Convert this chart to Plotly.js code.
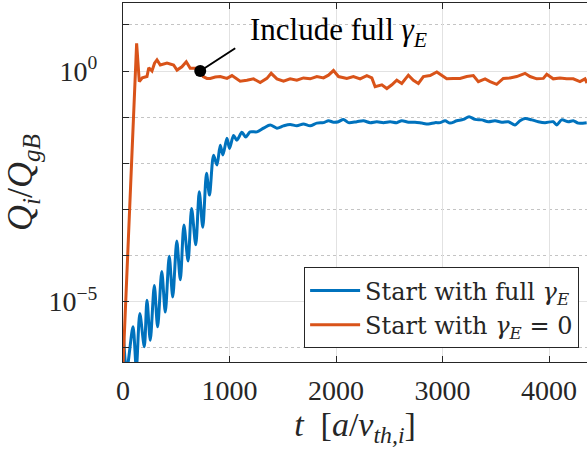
<!DOCTYPE html>
<html>
<head>
<meta charset="utf-8">
<script src="https://cdn.plot.ly/plotly-3.0.1.min.js"></script>
<style>html,body{margin:0;padding:0;background:#fff;}#chart{width:587px;height:452px;}</style>
</head>
<body>
<div id="chart"></div>
<script>
// Time axis values t [a/v_th,i] and log10(Q_i/Q_gB)
var blueT = [3,34,94,125,158,200,225,256,294,325,364,397,434,467,505,538,572,611,644,683,716,749,784,812,850,882,913,938,976,1000,1038,1069,1116,1152,1194,1257,1319,1382,1445,1507,1569,1632,1694,1757,1820,1882,1929,1976,2023,2069,2116,2195,2257,2320,2383,2445,2508,2570,2617,2679,2742,2805,2867,2930,2977,3024,3070,3133,3195,3249,3305,3368,3430,3493,3555,3617,3680,3727,3774,3837,3899,3962,4039,4071,4118,4180,4227,4274,4353];
var blueLog10 = [-5.69,-6.5,-5.55,-6.45,-5.26,-5.98,-4.97,-5.84,-4.65,-5.55,-4.35,-5.23,-4.02,-4.90,-3.69,-4.53,-3.34,-4.12,-2.98,-3.77,-2.62,-3.39,-2.22,-2.69,-1.83,-2.04,-1.61,-1.82,-1.46,-1.68,-1.40,-1.50,-1.33,-1.43,-1.32,-1.32,-1.24,-1.17,-1.24,-1.19,-1.16,-1.19,-1.15,-1.19,-1.13,-1.12,-1.08,-1.11,-1.10,-1.05,-1.12,-1.10,-1.08,-1.12,-1.10,-1.12,-1.10,-1.12,-1.08,-1.11,-1.11,-1.13,-1.15,-1.12,-1.12,-1.08,-1.13,-1.08,-1.05,-0.99,-1.05,-1.06,-1.10,-1.08,-1.11,-1.10,-1.17,-1.08,-1.03,-1.06,-1.10,-1.12,-1.10,-1.17,-1.06,-1.10,-1.08,-1.13,-1.12];
var orangeT = [0,128,153,181,225,242,272,296,319,350,413,475,507,553,594,631,694,725,753,788,819,866,913,976,1023,1100,1163,1225,1288,1351,1391,1445,1507,1569,1632,1694,1757,1820,1882,1929,1976,2023,2101,2163,2226,2289,2336,2367,2430,2477,2524,2570,2617,2679,2726,2773,2820,2883,2946,2993,3039,3101,3164,3227,3289,3336,3399,3446,3508,3570,3633,3696,3774,3821,3884,3946,3978,4039,4102,4165,4227,4290,4337,4356];
var orangeLog10 = [-6.4,0.60,-0.23,-0.15,-0.12,0.07,0.00,0.17,0.24,0.13,0.17,0.13,0.02,0.09,0.20,0.06,0.06,0.00,-0.12,-0.16,-0.16,-0.13,-0.12,-0.16,-0.10,-0.22,-0.20,-0.17,-0.25,-0.16,-0.05,-0.17,-0.22,-0.17,-0.20,-0.15,-0.17,-0.12,-0.15,-0.09,0.01,-0.12,-0.16,-0.12,-0.17,-0.10,-0.15,-0.34,-0.30,-0.38,-0.30,-0.20,-0.27,-0.09,-0.20,-0.27,-0.12,-0.10,-0.02,-0.09,-0.17,-0.16,-0.16,-0.12,-0.10,-0.23,-0.17,-0.23,-0.29,-0.16,-0.15,-0.12,-0.05,-0.12,-0.17,-0.16,-0.07,-0.17,-0.15,-0.17,-0.17,-0.23,-0.17,-0.26];
var seriesNames = ['Start with full <i>γ</i><sub><i>E</i></sub>', 'Start with <i>γ</i><sub><i>E</i></sub> = 0'];
var xTickVals = [0,1000,2000,3000,4000];
var yTickVals = [1e-5, 1];
var yTickText = ['10<sup>−5</sup>', '10<sup>0</sup>'];
var yMinorVals = [1e-6,1e-4,1e-3,1e-2,1e-1,10];
var annotationText = 'Include full <i>γ</i><sub><i>E</i></sub>';
var annotationPoint = {t: 725, log10: 0.0};

function pow10(a){ return a.map(function(v){ return Math.pow(10, v); }); }

var FONT = 'Liberation Serif';
var FONT2 = 'DejaVu Serif';
var INK = '#262626';

var traces = [
  {x: blueT, y: pow10(blueLog10), type: 'scatter', mode: 'lines', name: seriesNames[0],
   line: {color: '#0072BD', width: 3, shape: 'spline', smoothing: 0.8}},
  {x: orangeT, y: pow10(orangeLog10), type: 'scatter', mode: 'lines', name: seriesNames[1],
   line: {color: '#D95319', width: 3}}
];

var layout = {
  width: 587, height: 452,
  margin: {l: 123, r: 0, t: 3, b: 90},
  paper_bgcolor: '#ffffff', plot_bgcolor: '#ffffff',
  font: {family: FONT, color: INK, size: 28},
  showlegend: true,
  hovermode: false,
  xaxis: {
    range: [0, 4356], tickmode: 'array', tickvals: xTickVals,
    ticks: 'inside', ticklen: 6, tickwidth: 1, tickcolor: INK,
    showline: true, linecolor: INK, linewidth: 1, mirror: 'ticks',
    showgrid: true, gridcolor: '#e2e2e2', gridwidth: 1, zeroline: false,
    tickfont: {family: FONT, size: 28, color: INK},
    ticklabelstandoff: 3,
    title: {text: '<i>t</i>  [<i>a</i>/<i>v</i><sub><i>th,i</i></sub>]', font: {family: FONT, size: 34, color: INK}, standoff: 4}
  },
  yaxis: {
    type: 'log', range: [-6.312, 1.475],
    tickmode: 'array', tickvals: yTickVals, ticktext: yTickText,
    ticks: 'inside', ticklen: 6, tickwidth: 1, tickcolor: INK,
    showline: true, linecolor: INK, linewidth: 1, mirror: false,
    showgrid: true, gridcolor: '#e2e2e2', gridwidth: 1, zeroline: false,
    tickfont: {family: FONT, size: 28, color: INK},
    ticklabelstandoff: 19,
    minor: {tickmode: 'array', tickvals: yMinorVals, ticks: 'inside', ticklen: 6, tickcolor: INK,
            showgrid: true, gridcolor: '#c4c4c4', griddash: 'dot', gridwidth: 1},
    title: {text: '<i>Q</i><sub><i>i</i></sub>/<i>Q</i><sub><i>gB</i></sub>', font: {family: FONT, size: 36, color: INK}, standoff: 10}
  },
  legend: {
    x: 0.983, y: 0.038, xanchor: 'right', yanchor: 'bottom',
    bgcolor: '#ffffff', bordercolor: INK, borderwidth: 1,
    font: {family: FONT2, size: 24, color: INK},
    itemwidth: 50, tracegroupgap: 0
  },
  annotations: [
    {xref: 'x', yref: 'y', x: annotationPoint.t, y: annotationPoint.log10,
     text: ' ', showarrow: true, arrowhead: 6, arrowsize: 1.5, arrowwidth: 2, arrowcolor: '#000000',
     ax: 40, ay: -26, standoff: 0},
    {xref: 'paper', yref: 'paper', x: (248-123)/464, y: (362-32)/359, xanchor: 'left', yanchor: 'middle',
     text: annotationText, showarrow: false, font: {family: FONT, size: 31, color: '#000000'}}
  ]
};

Plotly.newPlot('chart', traces, layout, {displayModeBar: false, staticPlot: true});
</script>
</body>
</html>
